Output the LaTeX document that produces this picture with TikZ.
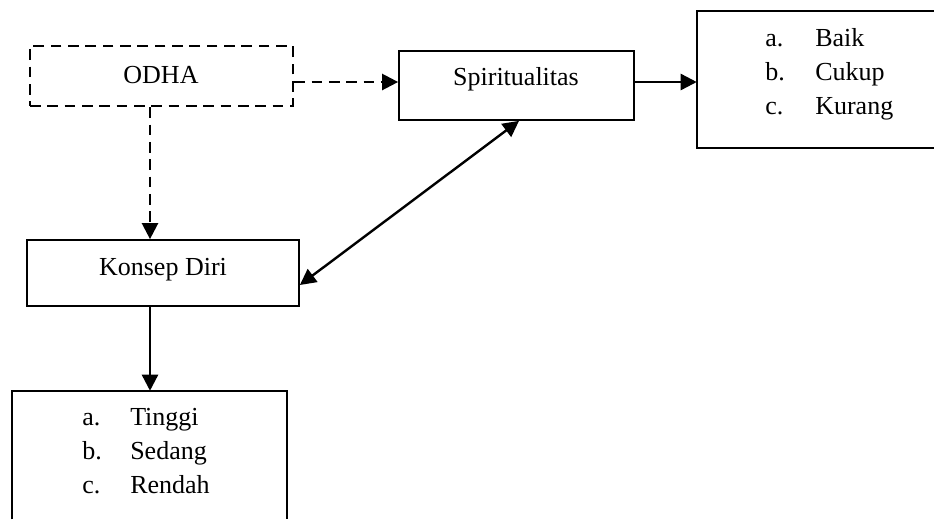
\documentclass[tikz,border=0pt]{standalone}
\usepackage{fontspec}
\setmainfont{Liberation Serif}
\usetikzlibrary{arrows.meta}
\begin{document}
\begin{tikzpicture}[x=0.75pt,y=-0.75pt,
  box/.style={draw=black,line width=1.3pt,minimum width=#1,inner sep=0pt},
  frame/.style={draw=none,inner sep=0pt},
  lbl/.style={inner sep=0pt,font=\fontsize{19.5pt}{24pt}\selectfont},
  arr/.style={line width=1.8pt,-{Triangle[length=12pt,width=12pt]}},
  dbl/.style={line width=1.8pt,{Triangle[length=12pt,width=12pt]}-{Triangle[length=12pt,width=12pt]}},
  dsh/.style={dash pattern=on 8pt off 5pt}]
\useasboundingbox (0,0) rectangle (934,519);
% boxes
\node[box=263*0.75pt,minimum height=60*0.75pt,line width=1.8pt,dsh] (odha) at (161.5,76) {};
\node[box=235*0.75pt,minimum height=69*0.75pt] (spirit) at (516.5,85.5) {};
\node[box=272*0.75pt,minimum height=66*0.75pt] (konsep) at (163,273) {};
\node[frame,minimum width=237*0.75pt,minimum height=137*0.75pt] (res1) at (815.5,79.5) {};
\node[frame,minimum width=275*0.75pt,minimum height=128*0.75pt] (res2) at (149.5,455) {};
\draw[line width=1.3pt] (res1.north east) -- (res1.north west) -- (res1.south west) -- (res1.south east);
\draw[line width=1.3pt] (res2.south west) -- (res2.north west) -- (res2.north east) -- (res2.south east);
% texts
\node[lbl,anchor=base] (t1) at (161,83) {ODHA};
\node[lbl,anchor=base] (t2) at (516,85) {Spiritualitas};
\node[lbl,anchor=base] (t3) at (163,275) {Konsep Diri};
\node[lbl,anchor=base west] (r1a) at (765,46) {a.};
\node[lbl,anchor=base west] (r1b) at (765,80) {b.};
\node[lbl,anchor=base west] (r1c) at (765,114) {c.};
\node[lbl,anchor=base west] (r1d) at (815,46) {Baik};
\node[lbl,anchor=base west] (r1e) at (815,80) {Cukup};
\node[lbl,anchor=base west] (r1f) at (815,114) {Kurang};
\node[lbl,anchor=base west] (r2a) at (82,425) {a.};
\node[lbl,anchor=base west] (r2b) at (82,459) {b.};
\node[lbl,anchor=base west] (r2c) at (82,493) {c.};
\node[lbl,anchor=base west] (r2d) at (130,425) {Tinggi};
\node[lbl,anchor=base west] (r2e) at (130,459) {Sedang};
\node[lbl,anchor=base west] (r2f) at (130,493) {Rendah};
% connectors
\coordinate (h1) at (0,82);
\coordinate (v1) at (150,0);
\coordinate (d1) at (0,285);
\coordinate (d2) at (519,0);
\draw[arr,dsh] (odha.east |- h1) -- (spirit.west |- h1);
\draw[arr] (spirit.east |- h1) -- (res1.west |- h1);
\draw[arr,dsh] (odha.south -| v1) -- (konsep.north -| v1);
\draw[arr] (konsep.south -| v1) -- (res2.north -| v1);
\draw[dbl] (konsep.east |- d1) -- (spirit.south -| d2);
\end{tikzpicture}
\end{document}
